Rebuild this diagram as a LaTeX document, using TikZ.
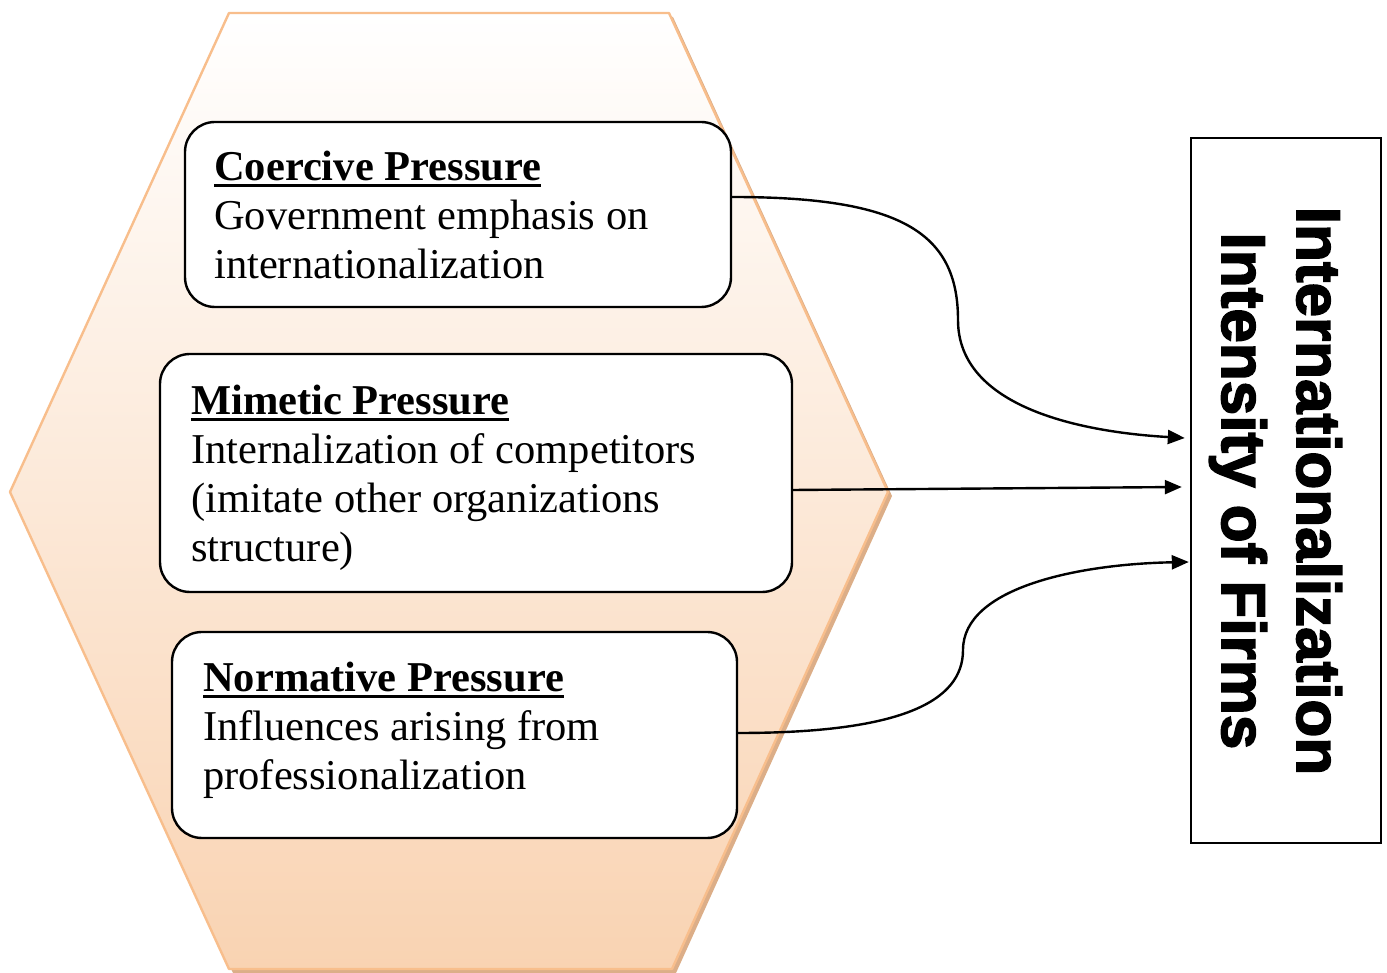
\documentclass[tikz,border=0pt]{standalone}
\usepackage{fontspec}
\setmainfont{Liberation Serif}
\newfontfamily\heavyfont{Liberation Sans}[BoldFeatures={FakeBold=2.5}]
\usetikzlibrary{arrows.meta,calc}
\definecolor{hexline}{HTML}{F8BE8C}
\definecolor{hextop}{HTML}{FFFFFF}
\definecolor{hexbot}{HTML}{F9D3B2}
\definecolor{hexshadow}{HTML}{DCAE88}
\newcommand\ulhead[1]{\setbox0\hbox{\bfseries #1}\rlap{\rule[-6pt]{\wd0}{3.2pt}}\box0}
\tikzset{
  pbox/.style={draw=black, line width=2.4pt, fill=white, rounded corners=30pt, inner sep=0pt},
  ptext/.style={anchor=base west, align=left, inner sep=0pt, font=\fontsize{42.5}{49}\selectfont},
  rtext/.style={anchor=base, rotate=-90, inner sep=0pt, font=\heavyfont\bfseries\fontsize{62}{62}\selectfont},
  conn/.style={line width=2.4pt, -{Triangle[length=17pt,width=14pt]}}
}
\begin{document}
\begin{tikzpicture}[x=1pt,y=1pt]
\useasboundingbox (0,0) rectangle (1387,972);
% hexagon shadow
\fill[hexshadow] ($(229,959)+(4,-4)$) -- ($(669,959)+(4,-4)$) -- ($(888,480)+(4,-4)$) -- ($(672,3)+(4,-4)$) -- ($(229,3)+(4,-4)$) -- ($(10,480)+(4,-4)$) -- cycle;
% hexagon
\shade[top color=hextop, bottom color=hexbot] (229,959) -- (669,959) -- (888,480) -- (672,3) -- (229,3) -- (10,480) -- cycle;
\draw[hexline, line width=2.4pt, line join=round] (229,959) -- (669,959) -- (888,480) -- (672,3) -- (229,3) -- (10,480) -- cycle;
% boxes
\node[pbox, minimum width=546pt, minimum height=185pt] (b1) at (458,757.5) {};
\node[pbox, minimum width=632pt, minimum height=238pt] (b2) at (476,499) {};
\node[pbox, minimum width=565pt, minimum height=206pt] (b3) at (454.5,237) {};
\node[draw=black, line width=2.4pt, fill=white, minimum width=190pt, minimum height=705pt, inner sep=0pt] (rb) at (1286,481.5) {};
% texts (anchor = baseline of last line)
\node[ptext] (t1) at (214,693) {\ulhead{Coercive Pressure}\\Government emphasis on\\internationalization};
\node[ptext] (t2) at (191,410) {\ulhead{Mimetic Pressure}\\Internalization of competitors\\(imitate other organizations\\structure)};
\node[ptext] (t3) at (203,182) {\ulhead{Normative Pressure}\\Influences arising from\\professionalization};
\node[rtext] (r1) at (1297,481) {Internationalization};
\node[rtext] (r2) at (1222,481) {Intensity of Firms};
% connector points
\coordinate (s1) at ($(b1.east)+(0,17.5)$);
\coordinate (s2) at ($(b2.east)+(0,-17)$);
\coordinate (s3) at ($(b3.east)+(0,2)$);
\coordinate (e1) at ($(rb.west)+(-5,52.5)$);
\coordinate (e2) at ($(rb.west)+(-8,3.5)$);
\coordinate (e3) at ($(rb.west)+(-1,-71.5)$);
\coordinate (m1) at (958,652);
\coordinate (m3) at (963,322);
% connectors
\draw[conn] (s1) .. controls (900,775) and (958,740) .. (m1) .. controls (958,565) and (1080,540) .. (e1);
\draw[conn] (s2) -- (e2);
\draw[conn] (s3) .. controls (900,239) and (963,270) .. (m3) .. controls (963,385) and (1080,408) .. (e3);
\end{tikzpicture}
\end{document}
